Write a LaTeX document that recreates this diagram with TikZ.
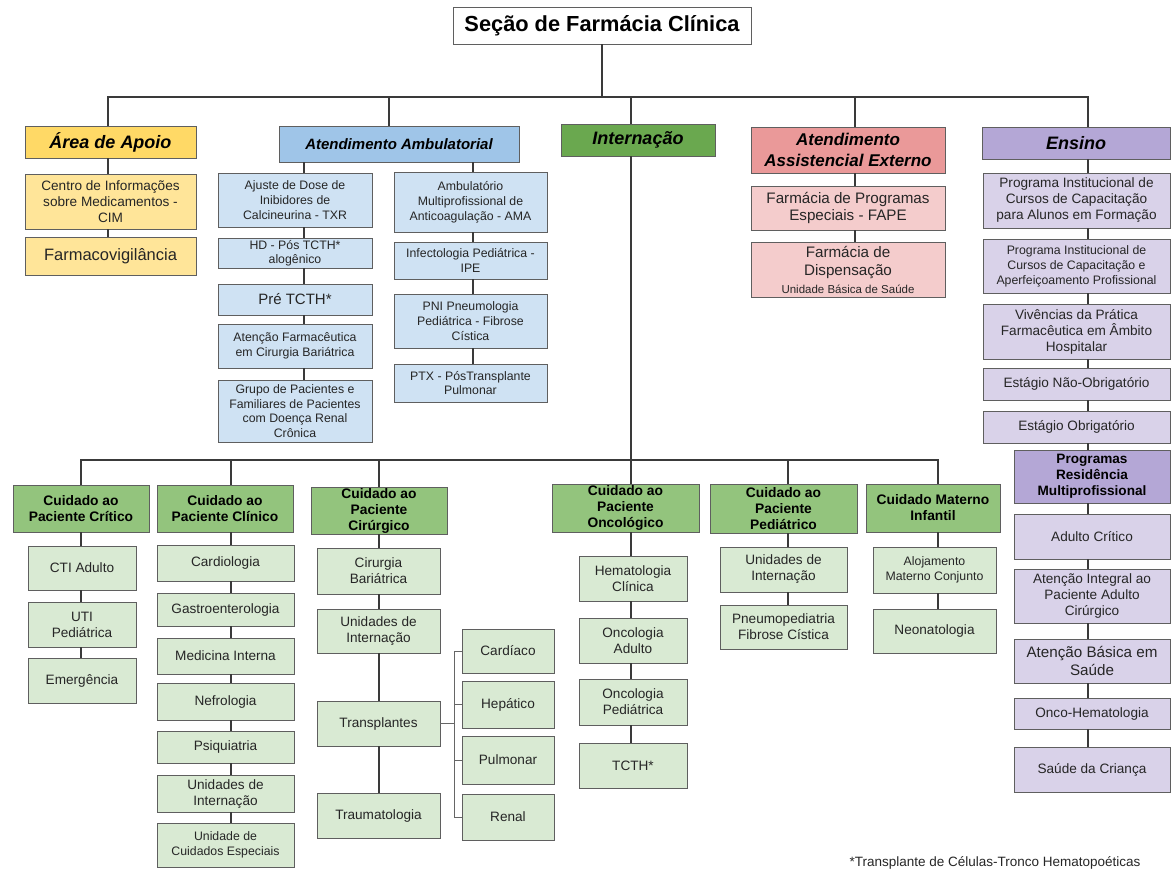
\documentclass[tikz,border=0pt]{standalone}
\usepackage{fontspec}
\setmainfont{Liberation Sans}
\definecolor{bordc}{HTML}{5F5F5F}
\definecolor{linec}{HTML}{3A3A3A}
\definecolor{txtc}{HTML}{262626}
\definecolor{ylwH}{HTML}{FFD966}
\definecolor{ylwC}{HTML}{FFE599}
\definecolor{bluH}{HTML}{9FC5E8}
\definecolor{bluC}{HTML}{CFE2F3}
\definecolor{grnT}{HTML}{6AA84F}
\definecolor{grnH}{HTML}{93C47D}
\definecolor{grnC}{HTML}{D9EAD3}
\definecolor{redH}{HTML}{EA9999}
\definecolor{redC}{HTML}{F4CCCC}
\definecolor{purH}{HTML}{B4A7D6}
\definecolor{purC}{HTML}{D9D2E9}

% box from its corners: name, style, x1, y1, x2, y2, text
\newcommand\bx[7]{\node[#2,minimum width={#5-#3},minimum height={#6-#4}] (#1) at ({(#3+#5)/2},{(#4+#6)/2}) {#7};}

\begin{document}
\begin{tikzpicture}[x=1pt,y=-1pt,
  box/.style={draw=bordc,line width=0.9pt,align=center,inner sep=1pt,outer sep=0pt,text=txtc},
  topbox/.style={box,fill=white,text=black,font=\fontsize{21.8}{24}\selectfont\bfseries},
  headbox/.style={box,text=black,font=\fontsize{18}{21}\selectfont\bfseries\itshape},
  subhead/.style={box,text=black,font=\fontsize{13.8}{16}\selectfont\bfseries},
  leafbox/.style={box,font=\fontsize{13.6}{16}\selectfont},
  smalltxt/.style={font=\fontsize{12.3}{14.8}\selectfont},
  conn/.style={draw=linec,line width=2pt},
  thinconn/.style={draw=gray!80!black,line width=1pt}]

\fill[white] (0,0) rectangle (1172,871);
\useasboundingbox (0,0) rectangle (1172,871);

% ---------- top level ----------
\bx{title}{topbox}{453}{7}{751}{44}{Seção de Farmácia Clínica}

\bx{apoio}{headbox,fill=ylwH}{25}{126}{196}{158}{Área de Apoio}
\bx{amb}{headbox,fill=bluH,font=\fontsize{15}{18}\selectfont\bfseries\itshape}{279}{126}{519}{162}{Atendimento Ambulatorial}
\bx{intern}{headbox,fill=grnT}{561}{124}{715}{156}{Internação}
\bx{ext}{headbox,fill=redH,font=\fontsize{17}{21}\selectfont\bfseries\itshape}{751}{127}{945}{173}{Atendimento\\Assistencial Externo}
\bx{ensino}{headbox,fill=purH}{982}{127}{1170}{159}{Ensino}

% ---------- Área de Apoio ----------
\bx{cim}{leafbox,fill=ylwC}{25}{174}{196}{229}{Centro de Informações\\sobre Medicamentos -\\CIM}
\bx{farmaco}{leafbox,fill=ylwC,font=\fontsize{16.5}{19}\selectfont}{25}{237}{196}{275}{Farmacovigilância}

% ---------- Atendimento Ambulatorial ----------
\bx{txr}{leafbox,smalltxt,fill=bluC}{218}{173}{372}{227}{Ajuste de Dose de\\Inibidores de\\Calcineurina - TXR}
\bx{hd}{leafbox,smalltxt,fill=bluC,font=\fontsize{12.3}{14}\selectfont}{218}{238}{372}{268}{HD - Pós TCTH*\\alogênico}
\bx{pre}{leafbox,fill=bluC,font=\fontsize{15}{18}\selectfont}{218}{284}{372}{315}{Pré TCTH*}
\bx{atf}{leafbox,smalltxt,fill=bluC}{218}{324}{372}{368}{Atenção Farmacêutica\\em Cirurgia Bariátrica}
\bx{grp}{leafbox,smalltxt,fill=bluC}{218}{380}{372}{442}{Grupo de Pacientes e\\Familiares de Pacientes\\com Doença Renal\\Crônica}
\bx{ama}{leafbox,smalltxt,fill=bluC}{394}{172}{547}{232}{Ambulatório\\Multiprofissional de\\Anticoagulação - AMA}
\bx{ipe}{leafbox,smalltxt,fill=bluC}{394}{242}{547}{279}{Infectologia Pediátrica -\\IPE}
\bx{pni}{leafbox,smalltxt,fill=bluC}{394}{294}{547}{348}{PNI Pneumologia\\Pediátrica - Fibrose\\Cística}
\bx{ptx}{leafbox,smalltxt,fill=bluC}{394}{364}{547}{402}{PTX - PósTransplante\\Pulmonar}

% ---------- Atendimento Assistencial Externo ----------
\bx{fape}{leafbox,fill=redC,font=\fontsize{15.2}{17.5}\selectfont}{751}{186}{945}{230}{Farmácia de Programas\\Especiais - FAPE}
\bx{disp}{leafbox,fill=redC,font=\fontsize{15.2}{18}\selectfont}{751}{242}{945}{297}{Farmácia de\\Dispensação\\{\fontsize{11.5}{15}\selectfont Unidade Básica de Saúde}}

% ---------- Ensino ----------
\bx{pic1}{leafbox,fill=purC}{983}{173}{1170}{228}{Programa Institucional de\\Cursos de Capacitação\\para Alunos em Formação}
\bx{pic2}{leafbox,smalltxt,fill=purC,font=\fontsize{12.3}{15}\selectfont}{983}{239}{1170}{293}{Programa Institucional de\\Cursos de Capacitação e\\Aperfeiçoamento Profissional}
\bx{viv}{leafbox,fill=purC}{983}{304}{1170}{359}{Vivências da Prática\\Farmacêutica em Âmbito\\Hospitalar}
\bx{eno}{leafbox,fill=purC}{983}{368}{1170}{400}{Estágio Não-Obrigatório}
\bx{eo}{leafbox,fill=purC}{983}{411}{1170}{443}{Estágio Obrigatório}
\bx{res}{subhead,fill=purH,font=\fontsize{13.6}{16}\selectfont\bfseries}{1014}{450}{1170}{503}{Programas\\Residência\\Multiprofissional}
\bx{adc}{leafbox,fill=purC}{1014}{514}{1170}{559}{Adulto Crítico}
\bx{aip}{leafbox,fill=purC}{1014}{569}{1170}{623}{Atenção Integral ao\\Paciente Adulto\\Cirúrgico}
\bx{abs}{leafbox,fill=purC,font=\fontsize{15.2}{18}\selectfont}{1014}{639}{1170}{683}{Atenção Básica em\\Saúde}
\bx{onh}{leafbox,fill=purC}{1014}{698}{1170}{729}{Onco-Hematologia}
\bx{sdc}{leafbox,fill=purC}{1014}{747}{1170}{792}{Saúde da Criança}

% ---------- Internação: care lines ----------
\bx{crit}{subhead,fill=grnH}{13}{485}{149}{532}{Cuidado ao\\Paciente Crítico}
\bx{clin}{subhead,fill=grnH}{157}{485}{293}{532}{Cuidado ao\\Paciente Clínico}
\bx{cir}{subhead,fill=grnH}{311}{487}{447}{534}{Cuidado ao\\Paciente\\Cirúrgico}
\bx{onc}{subhead,fill=grnH}{552}{484}{699}{532}{Cuidado ao\\Paciente\\Oncológico}
\bx{ped}{subhead,fill=grnH}{710}{484}{857}{533}{Cuidado ao\\Paciente\\Pediátrico}
\bx{mat}{subhead,fill=grnH}{866}{484}{1000}{532}{Cuidado Materno\\Infantil}

\bx{cti}{leafbox,fill=grnC}{28}{546}{136}{590}{CTI Adulto}
\bx{uti}{leafbox,fill=grnC}{28}{602}{136}{647}{UTI\\Pediátrica}
\bx{emg}{leafbox,fill=grnC}{28}{658}{136}{703}{Emergência}

\bx{card}{leafbox,fill=grnC}{157}{545}{294}{581}{Cardiologia}
\bx{gastro}{leafbox,fill=grnC}{157}{593}{294}{626}{Gastroenterologia}
\bx{medint}{leafbox,fill=grnC}{157}{638}{294}{674}{Medicina Interna}
\bx{nefro}{leafbox,fill=grnC}{157}{683}{294}{720}{Nefrologia}
\bx{psiq}{leafbox,fill=grnC}{157}{731}{294}{763}{Psiquiatria}
\bx{uint}{leafbox,fill=grnC}{157}{775}{294}{812}{Unidades de\\Internação}
\bx{uce}{leafbox,smalltxt,fill=grnC}{157}{823}{294}{867}{Unidade de\\Cuidados Especiais}

\bx{cb}{leafbox,fill=grnC}{317}{548}{440}{594}{Cirurgia\\Bariátrica}
\bx{cui}{leafbox,fill=grnC}{317}{609}{440}{653}{Unidades de\\Internação}
\bx{trn}{leafbox,fill=grnC}{317}{701}{440}{746}{Transplantes}
\bx{trm}{leafbox,fill=grnC}{317}{793}{440}{838}{Traumatologia}
\bx{tcar}{leafbox,fill=grnC}{462}{629}{554}{673}{Cardíaco}
\bx{thep}{leafbox,fill=grnC}{462}{681}{554}{728}{Hepático}
\bx{tpul}{leafbox,fill=grnC}{462}{736}{554}{784}{Pulmonar}
\bx{tren}{leafbox,fill=grnC}{462}{794}{554}{840}{Renal}

\bx{hem}{leafbox,fill=grnC}{579}{556}{687}{601}{Hematologia\\Clínica}
\bx{oad}{leafbox,fill=grnC}{579}{618}{687}{663}{Oncologia\\Adulto}
\bx{oped}{leafbox,fill=grnC}{579}{679}{687}{725}{Oncologia\\Pediátrica}
\bx{tcth}{leafbox,fill=grnC}{579}{743}{687}{788}{TCTH*}

\bx{pui}{leafbox,fill=grnC}{720}{547}{847}{592}{Unidades de\\Internação}
\bx{pfc}{leafbox,fill=grnC}{720}{605}{847}{649}{Pneumopediatria\\Fibrose Cística}

\bx{alo}{leafbox,smalltxt,fill=grnC}{873}{547}{996}{593}{Alojamento\\Materno Conjunto}
\bx{neo}{leafbox,fill=grnC}{873}{609}{996}{653}{Neonatologia}

\node[font=\fontsize{13.5}{15}\selectfont,text=txtc,inner sep=0pt] (nota) at (995,863) {*Transplante de Células-Tronco Hematopoéticas};

% ---------- connectors ----------
\coordinate (b1) at (108,97);
\coordinate (b2) at (389,97);
\coordinate (b3) at (631,97);
\coordinate (b4) at (855,97);
\coordinate (b5) at (1088,97);
\draw[conn] (title.south) -- (title.south |- b1);
\draw[conn] (b1 |- apoio.north) -- (b1) -- (b5) -- (b5 |- ensino.north);
\draw[conn] (b2) -- (b2 |- amb.north);
\draw[conn] (b3) -- (b3 |- intern.north);
\draw[conn] (b4) -- (b4 |- ext.north);

\coordinate (cL) at (304,0);
\coordinate (cR) at (473,0);
\foreach \a/\b in {apoio/cim,cim/farmaco}
  \draw[conn] (\a.south -| b1) -- (\b.north -| b1);
\foreach \a/\b in {amb/txr,txr/hd,hd/pre,pre/atf,atf/grp}
  \draw[conn] (\a.south -| cL) -- (\b.north -| cL);
\foreach \a/\b in {amb/ama,ama/ipe,ipe/pni,pni/ptx}
  \draw[conn] (\a.south -| cR) -- (\b.north -| cR);
\foreach \a/\b in {ext/fape,fape/disp}
  \draw[conn] (\a.south -| b4) -- (\b.north -| b4);
\foreach \a/\b in {ensino/pic1,pic1/pic2,pic2/viv,viv/eno,eno/eo,eo/res,res/adc,adc/aip,aip/abs,abs/onh,onh/sdc}
  \draw[conn] (\a.south -| b5) -- (\b.north -| b5);

\coordinate (k1) at (81,460);
\coordinate (k2) at (231,460);
\coordinate (k3) at (379,460);
\coordinate (k4) at (631,460);
\coordinate (k5) at (788,460);
\coordinate (k6) at (938,460);
\draw[conn] (intern.south -| k4) -- (k4);
\draw[conn] (k1 |- crit.north) -- (k1) -- (k6) -- (k6 |- mat.north);
\draw[conn] (k2) -- (k2 |- clin.north);
\draw[conn] (k3) -- (k3 |- cir.north);
\draw[conn] (k4) -- (k4 |- onc.north);
\draw[conn] (k5) -- (k5 |- ped.north);

\foreach \a/\b in {crit/cti,cti/uti,uti/emg}
  \draw[conn] (\a.south -| k1) -- (\b.north -| k1);
\foreach \a/\b in {clin/card,card/gastro,gastro/medint,medint/nefro,nefro/psiq,psiq/uint,uint/uce}
  \draw[conn] (\a.south -| k2) -- (\b.north -| k2);
\foreach \a/\b in {cir/cb,cb/cui,cui/trn,trn/trm}
  \draw[conn] (\a.south -| k3) -- (\b.north -| k3);
\foreach \a/\b in {onc/hem,hem/oad,oad/oped,oped/tcth}
  \draw[conn] (\a.south -| k4) -- (\b.north -| k4);
\foreach \a/\b in {ped/pui,pui/pfc}
  \draw[conn] (\a.south -| k5) -- (\b.north -| k5);
\foreach \a/\b in {mat/alo,alo/neo}
  \draw[conn] (\a.south -| k6) -- (\b.north -| k6);

% transplant bracket
\coordinate (tb) at (454,0);
\draw[thinconn] (trn.east) -- (trn.east -| tb);
\draw[thinconn] (tb |- tcar.west) -- (tb |- tren.west);
\foreach \t in {tcar,thep,tpul,tren}
  \draw[thinconn] (tb |- \t.west) -- (\t.west);

\end{tikzpicture}
\end{document}
